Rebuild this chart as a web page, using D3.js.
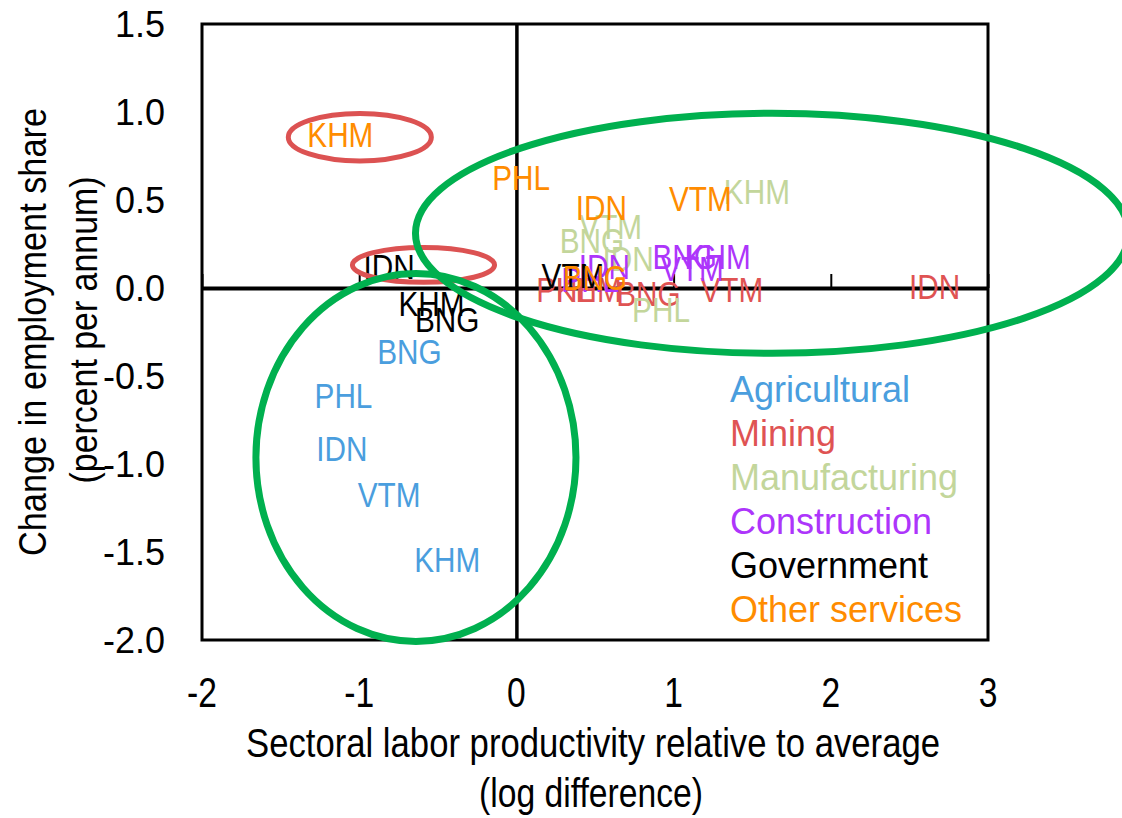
<!DOCTYPE html>
<html>
<head>
<meta charset="utf-8">
<script src="https://cdn.jsdelivr.net/npm/d3@7"></script>
<style>
  html, body { margin: 0; padding: 0; background: #fff; }
  svg { display: block; font-family: "Liberation Sans", Arial, sans-serif; }
</style>
</head>
<body>
<svg id="chart"></svg>
<script>
const width = 1122;
const height = 818;

// sectors (legend order = draw order)
const sectors = ["Agricultural", "Mining", "Manufacturing", "Construction", "Government", "Other services"];
const sectorColors = ["#4a9ede", "#df5353", "#c3d69b", "#ad35fb", "#000000", "#ff8c00"];

// [country, productivity gap (log diff), change in employment share (% p.a.)]
const agricultural = [["BNG", -0.68, -0.36], ["PHL", -1.10, -0.61], ["IDN", -1.11, -0.91], ["VTM", -0.81, -1.17], ["KHM", -0.44, -1.54]];
const mining = [["IDN", 2.66, 0.01], ["VTM", 1.37, -0.01], ["BNG", 0.84, -0.03], ["PHL", 0.31, -0.01], ["KHM", 0.46, -0.01]];
const manufacturing = [["KHM", 1.53, 0.55], ["VTM", 0.60, 0.35], ["BNG", 0.48, 0.27], ["IDN", 0.71, 0.17], ["PHL", 0.92, -0.12]];
const construction = [["PHL", 0.47, 0.05], ["IDN", 0.56, 0.12], ["BNG", 1.07, 0.18], ["KHM", 1.28, 0.18], ["VTM", 1.12, 0.11]];
const government = [["IDN", -0.81, 0.12], ["KHM", -0.54, -0.09], ["BNG", -0.44, -0.18], ["VTM", 0.36, 0.07]];
const otherServices = [["KHM", -1.12, 0.87], ["PHL", 0.03, 0.63], ["IDN", 0.54, 0.46], ["VTM", 1.17, 0.51], ["BNG", 0.50, 0.06]];
const seriesData = [agricultural, mining, manufacturing, construction, government, otherServices];

const xTicks = [-2, -1, 0, 1, 2, 3];
const yTicks = [1.5, 1.0, 0.5, 0.0, -0.5, -1.0, -1.5, -2.0];

// highlight ellipses, in data units: [cx, cy, rx, ry]
const greenEllipses = [[1.626, 0.311, 2.268, 0.682], [-0.639, -0.963, 1.018, 1.045]];
const redEllipses = [[-0.996, 0.857, 0.455, 0.135], [-0.591, 0.131, 0.452, 0.099]];

const plot = { left: 202, right: 988, top: 24, bottom: 640 };

const x = d3.scaleLinear().domain([-2, 3]).range([plot.left, plot.right]);
const y = d3.scaleLinear().domain([-2, 1.5]).range([plot.bottom, plot.top]);

const svg = d3.select("#chart")
    .attr("width", width)
    .attr("height", height)
    .attr("viewBox", [0, 0, width, height]);

// small helper: text squeezed horizontally like the narrow office font
function squeezed(g, txt, px, py, size, sx, anchor) {
  return g.append("text")
      .attr("transform", `translate(${px},${py}) scale(${sx},1)`)
      .attr("text-anchor", anchor || "middle")
      .attr("font-size", size)
      .text(txt);
}

// zero axes
svg.append("g")
    .attr("transform", `translate(0,${y(0)})`)
    .call(d3.axisTop(x).tickValues(xTicks).tickSize(14).tickSizeOuter(0).tickFormat(""))
    .call(g => g.select(".domain").attr("stroke", "#000").attr("stroke-width", 4))
    .call(g => g.selectAll(".tick line").attr("stroke", "#000").attr("stroke-width", 2));

svg.append("g")
    .attr("transform", `translate(${x(0)},0)`)
    .call(d3.axisLeft(y).tickValues([]).tickSizeOuter(0))
    .call(g => g.select(".domain").attr("stroke", "#000").attr("stroke-width", 3.5));

// plot frame
svg.append("rect")
    .attr("x", x(-2))
    .attr("y", y(1.5))
    .attr("width", x(3) - x(-2))
    .attr("height", y(-2) - y(1.5))
    .attr("fill", "none")
    .attr("stroke", "#000")
    .attr("stroke-width", 3);

// tick labels
const yLab = svg.append("g").attr("fill", "#000");
yTicks.forEach(v => {
  squeezed(yLab, v.toFixed(1), 165, y(v), 36, 1, "end").attr("dy", "0.36em");
});
const xLab = svg.append("g").attr("fill", "#000");
xTicks.forEach(v => {
  squeezed(xLab, String(v), x(v), 707, 42, 0.8);
});

// axis titles
svg.append("text")
    .attr("x", 593).attr("y", 757)
    .attr("text-anchor", "middle")
    .attr("font-size", 41)
    .attr("textLength", 694).attr("lengthAdjust", "spacingAndGlyphs")
    .text("Sectoral labor productivity  relative to average");
svg.append("text")
    .attr("x", 591).attr("y", 807)
    .attr("text-anchor", "middle")
    .attr("font-size", 41)
    .attr("textLength", 224).attr("lengthAdjust", "spacingAndGlyphs")
    .text("(log difference)");

svg.append("text")
    .attr("transform", "translate(46,332) rotate(-90)")
    .attr("text-anchor", "middle")
    .attr("font-size", 38)
    .attr("textLength", 448).attr("lengthAdjust", "spacingAndGlyphs")
    .text("Change in employment  share");
svg.append("text")
    .attr("transform", "translate(97,330) rotate(-90)")
    .attr("text-anchor", "middle")
    .attr("font-size", 38)
    .attr("textLength", 307).attr("lengthAdjust", "spacingAndGlyphs")
    .text("(percent per annum)");

// data labels (the markers themselves are hidden)
const labels = svg.append("g");
seriesData.forEach((rows, i) => {
  const g = labels.append("g").attr("fill", sectorColors[i]);
  rows.forEach(([c, vx, vy]) => {
    squeezed(g, c, x(vx), y(vy), 35, 0.85).attr("dy", "0.36em");
  });
});

// legend
const legend = svg.append("g");
sectors.forEach((s, i) => {
  squeezed(legend, s, 730, 402 + i * 44, 36, 1.0, "start").attr("fill", sectorColors[i]);
});

// highlight ellipses
svg.append("g")
    .selectAll("ellipse")
    .data(redEllipses)
    .join("ellipse")
      .attr("cx", d => x(d[0]))
      .attr("cy", d => y(d[1]))
      .attr("rx", d => x(d[2]) - x(0))
      .attr("ry", d => y(0) - y(d[3]))
      .attr("fill", "none")
      .attr("stroke", "#dc5252")
      .attr("stroke-width", 5);

svg.append("g")
    .selectAll("ellipse")
    .data(greenEllipses)
    .join("ellipse")
      .attr("cx", d => x(d[0]))
      .attr("cy", d => y(d[1]))
      .attr("rx", d => x(d[2]) - x(0))
      .attr("ry", d => y(0) - y(d[3]))
      .attr("fill", "none")
      .attr("stroke", "#00b04f")
      .attr("stroke-width", 7);
</script>
</body>
</html>
